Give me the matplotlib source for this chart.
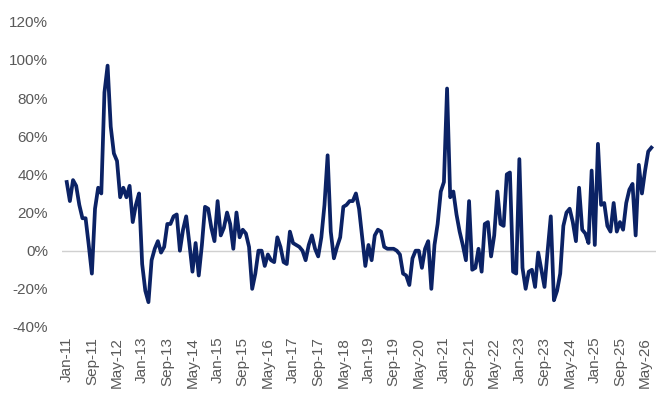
#! -*- coding: utf-8 -*-
import numpy as np
import pandas as pd
import matplotlib
matplotlib.use('Agg')
import matplotlib.pyplot as plt
from matplotlib.ticker import FuncFormatter

#---------------------------------
# データ (月次, Jan-11 .. Jul-26, %)
#---------------------------------
START_MONTH = '2011-01'
VALUES = [
    36, 26, 37, 34, 24, 17, 17, 3, -12, 22, 33, 30,          # 2011
    83, 97, 65, 51, 47, 28, 33, 28, 34, 15, 24, 30,          # 2012
    -7, -21, -27, -5, 1, 5, -1, 2, 14, 14, 18, 19,           # 2013
    0, 11, 18, 4, -11, 4, -13, 3, 23, 22, 12, 5,             # 2014
    26, 8, 12, 20, 14, 1, 20, 7, 11, 9, 2, -20,              # 2015
    -12, 0, 0, -8, -2, -5, -6, 7, 2, -6, -7, 10,             # 2016
    4, 3, 2, 0, -5, 3, 8, 1, -3, 7, 24, 50,                  # 2017
    10, -4, 2, 7, 23, 24, 26, 26, 30, 22, 7, -8,             # 2018
    3, -5, 8, 11, 10, 2, 1, 1, 1, 0, -2, -12,                # 2019
    -13, -18, -4, 0, 0, -9, 1, 5, -20, 3, 14, 31,            # 2020
    36, 85, 28, 31, 19, 10, 3, -5, 26, -10, -9, 1,           # 2021
    -11, 14, 15, -3, 8, 31, 14, 13, 40, 41, -11, -12,        # 2022
    48, -9, -20, -11, -10, -19, -1, -10, -19, 0, 18, -26,    # 2023
    -21, -12, 13, 20, 22, 15, 5, 33, 11, 9, 4, 42,           # 2024
    3, 56, 24, 25, 13, 10, 25, 10, 15, 11, 25, 32,           # 2025
    35, 8, 45, 30, 42, 52, 54,                               # 2026
]
TICK_STEP = 8   # 8ヶ月ごとにラベル

LINE_COLOR = '#0b2265'
TEXT_COLOR = '#595959'

def main():
    dates = pd.period_range(START_MONTH, periods=len(VALUES), freq='M')
    x = np.arange(len(VALUES))
    tick_pos = x[::TICK_STEP]
    tick_labels = [d.strftime('%b-%y') for d in dates[::TICK_STEP]]

    plt.rcParams['font.family'] = ['Liberation Sans', 'DejaVu Sans']

    fig = plt.figure(figsize=(6.69, 4.03), dpi=100)
    ax = fig.add_axes([0.0927, 0.1886, 0.888, 0.7574])

    # --- ゼロライン ---
    ax.axhline(0, color='#d0d0d0', linewidth=1.0, zorder=1)

    # --- 折れ線 ---
    ax.plot(x, VALUES, color=LINE_COLOR, linewidth=2.7, solid_joinstyle='round', zorder=2)

    ax.set_xlim(-1.5, len(VALUES) + 0.5)
    ax.set_ylim(-40, 120)
    ax.set_yticks(np.arange(-40, 121, 20))
    ax.yaxis.set_major_formatter(FuncFormatter(lambda v, p: '{:.0f}%'.format(v)))
    ax.set_xticks(tick_pos)
    ax.set_xticklabels(tick_labels, rotation=90)

    for s in ax.spines.values():
        s.set_visible(False)
    ax.tick_params(axis='both', length=0, colors=TEXT_COLOR, labelsize=11)
    ax.tick_params(axis='y', pad=10)
    ax.tick_params(axis='x', pad=7)

    fig.savefig('out.png', dpi=100)
    plt.close(fig)

if __name__ == '__main__':
    main()
